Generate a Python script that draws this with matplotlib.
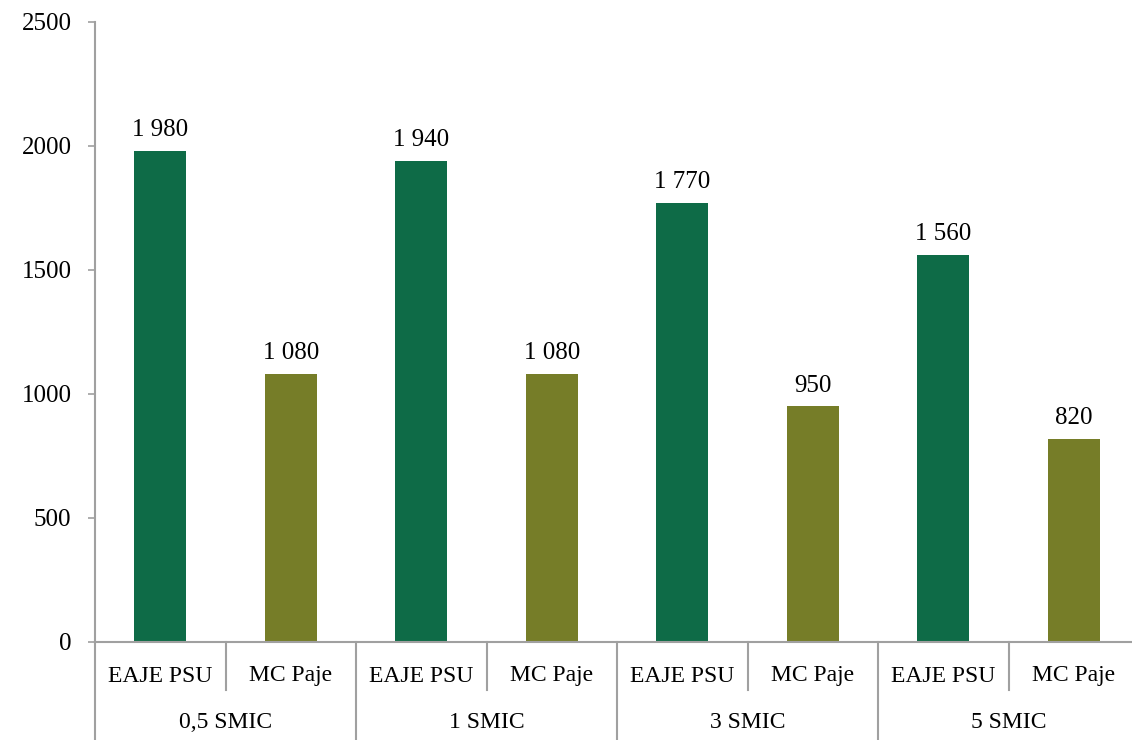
import matplotlib
matplotlib.use("Agg")
import matplotlib.pyplot as plt

# data
groups = ["0,5 SMIC", "1 SMIC", "3 SMIC", "5 SMIC"]
modes = ["EAJE PSU", "MC Paje"]
eaje_values = [1980, 1940, 1770, 1560]
paje_values = [1080, 1080, 950, 820]
y_ticks = [0, 500, 1000, 1500, 2000, 2500]

green = "#0E6B47"
olive = "#767D28"
grey = "#A0A0A0"

plt.rcParams["font.family"] = ["Liberation Serif", "DejaVu Serif"]

fig = plt.figure(figsize=(11.32, 7.4), dpi=100)
ax = fig.add_axes([95 / 1132, 1 - 642 / 740, 1044 / 1132, 620 / 740])

values = []
colors = []
for e, p in zip(eaje_values, paje_values):
    values += [e, p]
    colors += [green, olive]
xs = list(range(len(values)))

bars = ax.bar(xs, values, width=0.4, color=colors)

def fmt(v):
    return f"{v:,}".replace(",", " ")

for x, v in zip(xs, values):
    ax.annotate(fmt(v), (x, v), xytext=(0, 7), textcoords="offset points",
                ha="center", va="bottom", fontsize=18)

ax.set_xlim(-0.5, len(values) - 0.5)
ax.set_ylim(0, 2500)
ax.set_yticks(y_ticks)
ax.set_yticklabels([str(t) for t in y_ticks], fontsize=18)
ax.tick_params(axis="y", length=5, width=1.2, color=grey, pad=12)
ax.set_xticks([])

for side in ["top", "right"]:
    ax.spines[side].set_visible(False)
for side in ["left", "bottom"]:
    ax.spines[side].set_color(grey)
    ax.spines[side].set_linewidth(1.5)

# two-level category axis
trans = ax.get_xaxis_transform()
row1_y = -34 / 620
row2_y = -81 / 620
sub_sep = -48 / 620
grp_sep = -98 / 620

for i, x in enumerate(xs):
    ax.text(x, row1_y, modes[i % 2], transform=trans, ha="center",
            va="center", fontsize=17)
for g, name in enumerate(groups):
    ax.text(2 * g + 0.5, row2_y, name, transform=trans, ha="center",
            va="center", fontsize=17)
    ax.plot([2 * g + 0.5, 2 * g + 0.5], [0, sub_sep], transform=trans,
            color=grey, lw=1.5, clip_on=False)
for g in range(len(groups) + 1):
    xg = 2 * g - 0.5
    ax.plot([xg, xg], [0, grp_sep], transform=trans, color=grey, lw=1.5,
            clip_on=False)

fig.savefig("out.png", dpi=100)
